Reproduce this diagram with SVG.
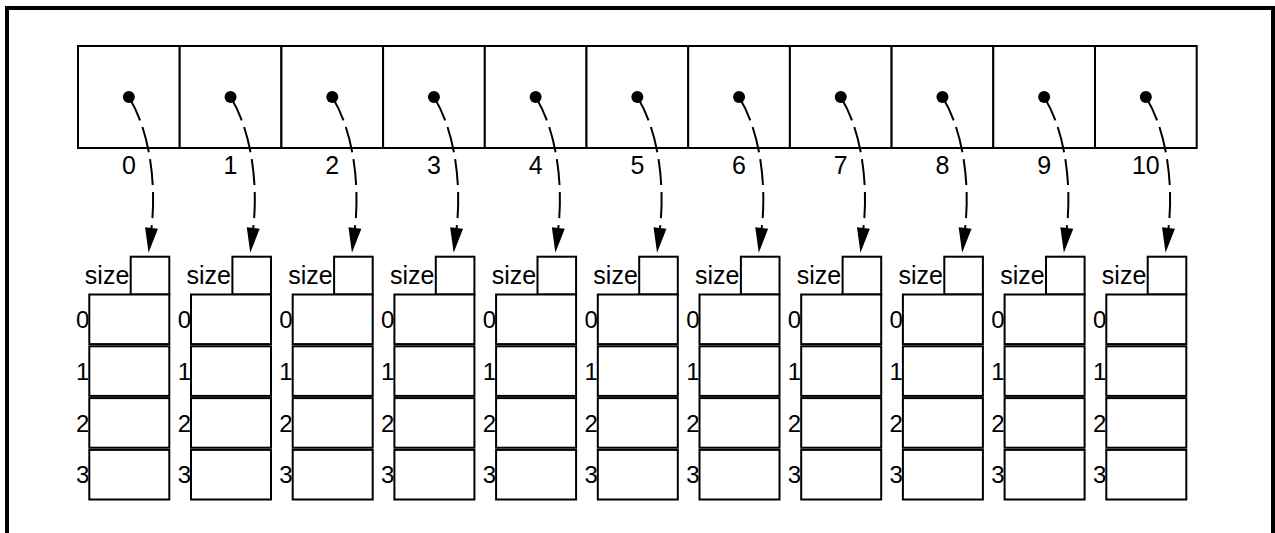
<svg xmlns="http://www.w3.org/2000/svg" width="1275" height="533" viewBox="0 0 1275 533">
<style>
.box{fill:#fff;stroke:#000;stroke-width:2}
.t{font-family:"Liberation Sans",Arial,sans-serif;font-size:25px;fill:#000}
.d{font-family:"Liberation Sans",Arial,sans-serif;font-size:24px;fill:#000;text-anchor:end}
.m{text-anchor:middle}
.e{text-anchor:end}
.c{fill:none;stroke:#000;stroke-width:2;stroke-dasharray:26 7;marker-end:url(#ah)}
</style>
<defs>
<marker id="ah" markerUnits="userSpaceOnUse" markerWidth="26" markerHeight="14" refX="0" refY="6.5" orient="auto" overflow="visible">
<path d="M0,0 L25,6.5 L0,13 Z" fill="#000"/>
</marker>
<g id="cellT">
<rect class="box" x="0" y="46" width="101.7" height="102"/>
<circle cx="50.85" cy="97" r="6" fill="#000"/>
</g>
<g id="stackT">
<text class="t e" x="51.3" y="284">size</text>
<rect class="box" x="52.7" y="256.7" width="38.6" height="37.8"/>
<rect class="box" x="11.3" y="294.5" width="80" height="49.6"/>
<rect class="box" x="11.3" y="346.3" width="80" height="49.6"/>
<rect class="box" x="11.3" y="398.1" width="80" height="49.6"/>
<rect class="box" x="11.3" y="449.9" width="80" height="49.6"/>
<text class="d" x="11.3" y="328">0</text>
<text class="d" x="11.3" y="379.8">1</text>
<text class="d" x="11.3" y="431.6">2</text>
<text class="d" x="11.3" y="483.4">3</text>
</g>
</defs>
<path d="M7,533 L7,8 L1273,8 L1273,533" fill="none" stroke="#000" stroke-width="4"/>
<g id="array">
<g id="cell0" transform="translate(78,0)"><use href="#cellT"/><text class="t m" x="50.85" y="174">0</text></g>
<g id="cell1" transform="translate(179.7,0)"><use href="#cellT"/><text class="t m" x="50.85" y="174">1</text></g>
<g id="cell2" transform="translate(281.4,0)"><use href="#cellT"/><text class="t m" x="50.85" y="174">2</text></g>
<g id="cell3" transform="translate(383.1,0)"><use href="#cellT"/><text class="t m" x="50.85" y="174">3</text></g>
<g id="cell4" transform="translate(484.8,0)"><use href="#cellT"/><text class="t m" x="50.85" y="174">4</text></g>
<g id="cell5" transform="translate(586.5,0)"><use href="#cellT"/><text class="t m" x="50.85" y="174">5</text></g>
<g id="cell6" transform="translate(688.2,0)"><use href="#cellT"/><text class="t m" x="50.85" y="174">6</text></g>
<g id="cell7" transform="translate(789.9,0)"><use href="#cellT"/><text class="t m" x="50.85" y="174">7</text></g>
<g id="cell8" transform="translate(891.6,0)"><use href="#cellT"/><text class="t m" x="50.85" y="174">8</text></g>
<g id="cell9" transform="translate(993.3,0)"><use href="#cellT"/><text class="t m" x="50.85" y="174">9</text></g>
<g id="cell10" transform="translate(1095,0)"><use href="#cellT"/><text class="t m" x="50.85" y="174">10</text></g>
</g>
<g id="stacks">
<g id="stack0" transform="translate(78,0)"><use href="#stackT"/></g>
<g id="stack1" transform="translate(179.7,0)"><use href="#stackT"/></g>
<g id="stack2" transform="translate(281.4,0)"><use href="#stackT"/></g>
<g id="stack3" transform="translate(383.1,0)"><use href="#stackT"/></g>
<g id="stack4" transform="translate(484.8,0)"><use href="#stackT"/></g>
<g id="stack5" transform="translate(586.5,0)"><use href="#stackT"/></g>
<g id="stack6" transform="translate(688.2,0)"><use href="#stackT"/></g>
<g id="stack7" transform="translate(789.9,0)"><use href="#stackT"/></g>
<g id="stack8" transform="translate(891.6,0)"><use href="#stackT"/></g>
<g id="stack9" transform="translate(993.3,0)"><use href="#stackT"/></g>
<g id="stack10" transform="translate(1095,0)"><use href="#stackT"/></g>
</g>
<g id="connectors">
<path class="c" transform="translate(78,0)" d="M50.85,97 C74,135 78,190 73.5,228"/>
<path class="c" transform="translate(179.7,0)" d="M50.85,97 C74,135 78,190 73.5,228"/>
<path class="c" transform="translate(281.4,0)" d="M50.85,97 C74,135 78,190 73.5,228"/>
<path class="c" transform="translate(383.1,0)" d="M50.85,97 C74,135 78,190 73.5,228"/>
<path class="c" transform="translate(484.8,0)" d="M50.85,97 C74,135 78,190 73.5,228"/>
<path class="c" transform="translate(586.5,0)" d="M50.85,97 C74,135 78,190 73.5,228"/>
<path class="c" transform="translate(688.2,0)" d="M50.85,97 C74,135 78,190 73.5,228"/>
<path class="c" transform="translate(789.9,0)" d="M50.85,97 C74,135 78,190 73.5,228"/>
<path class="c" transform="translate(891.6,0)" d="M50.85,97 C74,135 78,190 73.5,228"/>
<path class="c" transform="translate(993.3,0)" d="M50.85,97 C74,135 78,190 73.5,228"/>
<path class="c" transform="translate(1095,0)" d="M50.85,97 C74,135 78,190 73.5,228"/>
</g>
</svg>
